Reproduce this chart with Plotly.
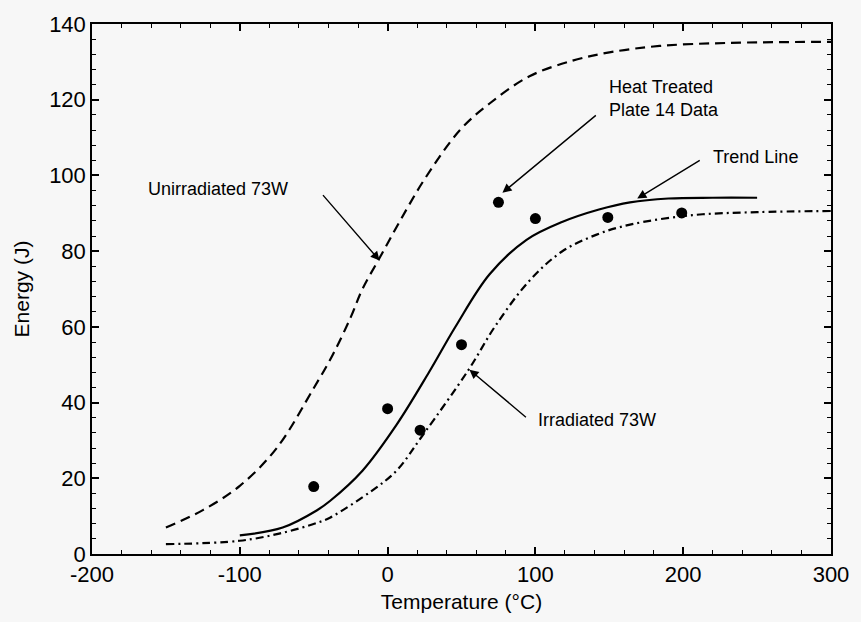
import plotly.graph_objects as go

# Data
unirr_T = [-150, -125, -100, -75, -50, -37, -25, -17, -5, 8, 25, 49, 69, 96, 125, 150, 184, 230, 300]
unirr_E = [7.0, 11.6, 18.0, 28.0, 43.8, 52.7, 62.5, 70.0, 78.5, 87.7, 99.0, 112.0, 119.0, 126.2, 130.3, 132.5, 134.2, 135.0, 135.3]

trend_T = [-100, -71, -48, -39, -17, 6, 28, 46, 69, 94, 118, 143, 164, 190, 220, 250]
trend_E = [4.9, 7.0, 11.5, 14.0, 22.0, 34.1, 48.0, 60.1, 73.9, 83.0, 87.7, 91.0, 92.9, 93.9, 94.1, 94.1]

irr_T = [-150, -100, -71, -48, -39, -10, 6, 24, 55, 73, 96, 118, 141, 164, 206, 250, 300]
irr_E = [2.6, 3.5, 5.6, 8.2, 9.6, 16.9, 22.0, 31.5, 48.8, 60.3, 72.2, 79.9, 84.3, 87.0, 89.5, 90.3, 90.6]

data_T = [-50, 0, 22, 50, 75, 100, 149, 199]
data_E = [17.8, 38.4, 32.7, 55.3, 92.9, 88.6, 88.9, 90.1]

x_ticks = [-200, -100, 0, 100, 200, 300]
x_labels = ["-200", "-100", "0", "100", "200", "300"]
y_ticks = [0, 20, 40, 60, 80, 100, 120, 140]
y_labels = ["0", "20", "40", "60", "80", "100", "120", "140"]

FONT = "Liberation Sans, Arial, sans-serif"

fig = go.Figure()
fig.add_trace(go.Scatter(x=unirr_T, y=unirr_E, mode="lines",
                         line=dict(color="black", width=2.2, dash="10px,6px", shape="spline", smoothing=1), showlegend=False))
fig.add_trace(go.Scatter(x=trend_T, y=trend_E, mode="lines",
                         line=dict(color="black", width=2.2, shape="spline", smoothing=1), showlegend=False))
fig.add_trace(go.Scatter(x=irr_T, y=irr_E, mode="lines",
                         line=dict(color="black", width=2.2, dash="8px,4px,2px,4px", shape="spline", smoothing=1), showlegend=False))
fig.add_trace(go.Scatter(x=data_T, y=data_E, mode="markers", marker=dict(color="black", size=11), showlegend=False))

afont = dict(family=FONT, size=18, color="black")


def callout(text, hx, hy, tx, ty, lx, ly, xanchor):
    fig.add_annotation(x=hx, y=hy, ax=tx, ay=ty, axref="x", ayref="y", xref="x", yref="y",
                       showarrow=True, arrowhead=2, arrowsize=1.3, arrowwidth=1.4, arrowcolor="black", text="")
    fig.add_annotation(x=lx, y=ly, xref="x", yref="y", text=text, showarrow=False, font=afont,
                       xanchor=xanchor, yanchor="middle", align="left")


callout("Unirradiated 73W", -5.4, 77.5, -44.6, 95.2, -66, 96.4, "right")
callout("Heat Treated<br>Plate 14 Data", 77.7, 95.4, 141.9, 116.2, 148.6, 120.2, "left")
callout("Trend Line", 168.9, 93.9, 212.2, 104.2, 218.9, 105.0, "left")
callout("Irradiated 73W", 55.4, 48.7, 94.6, 35.8, 100.7, 35.5, "left")

tfont = dict(family=FONT, size=22, color="black")
common = dict(showline=True, linecolor="black", linewidth=1.5, mirror="allticks", ticks="inside",
              ticklen=7, tickwidth=1.5, tickcolor="black", showgrid=False, zeroline=False, tickfont=tfont)

fig.update_xaxes(range=[-200, 300], tickmode="array", tickvals=x_ticks, ticktext=x_labels,
                 minor=dict(dtick=20, tick0=-200, ticks="inside", ticklen=4, tickcolor="black", tickwidth=1),
                 title=dict(text="Temperature (°C)", font=dict(family=FONT, size=21, color="black"), standoff=8),
                 **common)
fig.update_yaxes(range=[0, 140], tickmode="array", tickvals=y_ticks, ticktext=y_labels,
                 minor=dict(dtick=4, tick0=0, ticks="inside", ticklen=4, tickcolor="black", tickwidth=1),
                 title=dict(text="Energy (J)", font=dict(family=FONT, size=21, color="black"), standoff=14),
                 **common)

fig.update_layout(width=861, height=622, margin=dict(l=92, r=29, t=15, b=67),
                  paper_bgcolor="#f7f7f7", plot_bgcolor="#f7f7f7")

fig.write_html("out.html")
